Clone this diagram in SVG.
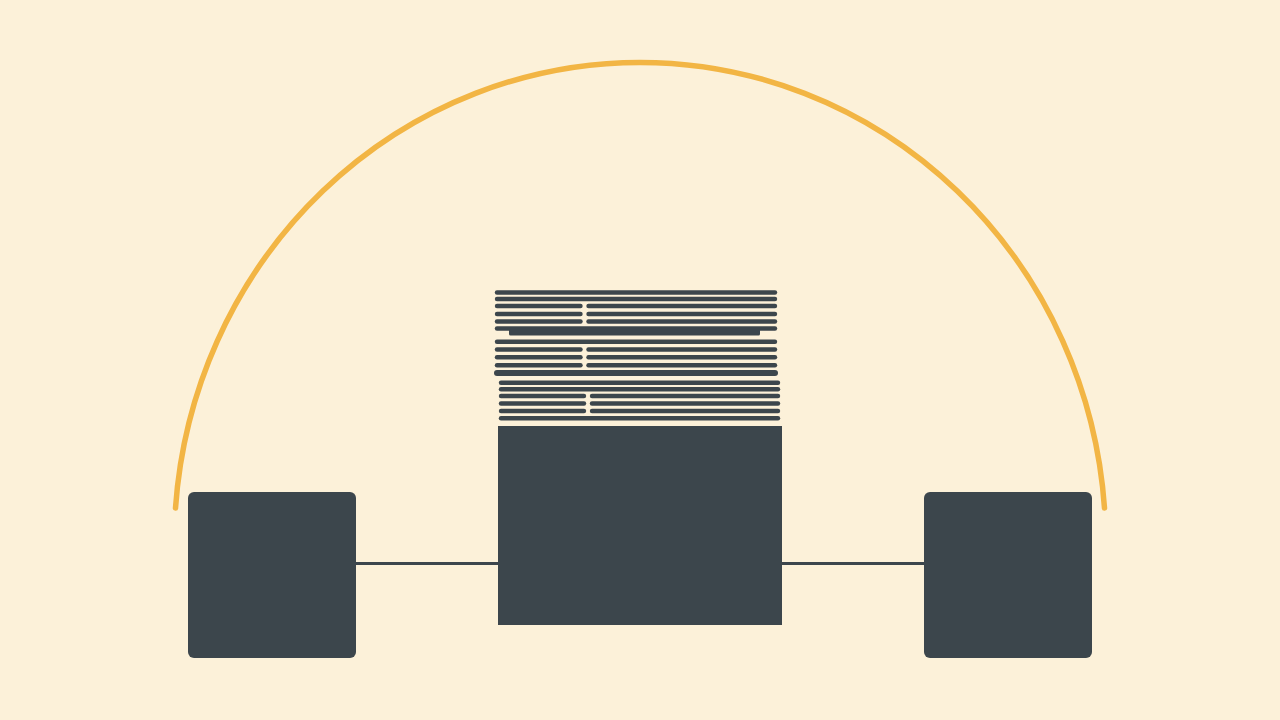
<svg xmlns="http://www.w3.org/2000/svg" width="1280" height="720" viewBox="0 0 1280 720">
  <style>
    .node { fill: #3C464C; }
    .ln { stroke: #3C464C; stroke-width: 4.4; stroke-linecap: round; fill: none; }
    .thick { stroke-width: 6; }
    .conn { stroke: #3C464C; stroke-width: 3; fill: none; }
    .arc { stroke: #F2B544; stroke-width: 5.5; stroke-linecap: round; fill: none; }
  </style>
  <rect x="0" y="0" width="1280" height="720" fill="#FCF1D9"/>
  <path class="arc" d="M175.5,508 A465.7,480 0 0 1 1104.5,508"/>
  <g id="connectors">
    <line class="conn" x1="355" y1="563.5" x2="499" y2="563.5"/>
    <line class="conn" x1="781" y1="563.5" x2="925" y2="563.5"/>
  </g>
  <g id="node-left">
    <rect class="node" x="188" y="492" width="168" height="166" rx="6"/>
  </g>
  <g id="node-right">
    <rect class="node" x="924" y="492" width="168" height="166" rx="6"/>
  </g>
  <g id="node-center">
    <rect class="node" x="498" y="426" width="284" height="199"/>
  </g>
  <g id="stack">
    <line class="ln" x1="497" y1="292.5" x2="775" y2="292.5"/>
    <line class="ln" x1="497" y1="299" x2="775" y2="299"/>
    <line class="ln" x1="497" y1="306" x2="580.5" y2="306"/>
    <line class="ln" x1="588.5" y1="306" x2="775" y2="306"/>
    <line class="ln" x1="497" y1="314" x2="580.5" y2="314"/>
    <line class="ln" x1="588.5" y1="314" x2="775" y2="314"/>
    <line class="ln" x1="497" y1="321.5" x2="580.5" y2="321.5"/>
    <line class="ln" x1="588.5" y1="321.5" x2="775" y2="321.5"/>
    <line class="ln" x1="497" y1="328.5" x2="775" y2="328.5"/>
    <rect class="node" x="509" y="329" width="251" height="6.5" rx="1.5"/>
    <line class="ln" x1="497" y1="341.7" x2="775" y2="341.7"/>
    <line class="ln" x1="497" y1="349.5" x2="580.5" y2="349.5"/>
    <line class="ln" x1="588.5" y1="349.5" x2="775" y2="349.5"/>
    <line class="ln" x1="497" y1="357.3" x2="580.5" y2="357.3"/>
    <line class="ln" x1="588.5" y1="357.3" x2="775" y2="357.3"/>
    <line class="ln" x1="497" y1="365.2" x2="580.5" y2="365.2"/>
    <line class="ln" x1="588.5" y1="365.2" x2="775" y2="365.2"/>
    <line class="ln thick" x1="497" y1="373" x2="775" y2="373"/>
    <line class="ln" x1="501" y1="382.8" x2="778" y2="382.8"/>
    <line class="ln" x1="501" y1="389.2" x2="778" y2="389.2"/>
    <line class="ln" x1="501" y1="396" x2="584" y2="396"/>
    <line class="ln" x1="592" y1="396" x2="778" y2="396"/>
    <line class="ln" x1="501" y1="403.5" x2="584" y2="403.5"/>
    <line class="ln" x1="592" y1="403.5" x2="778" y2="403.5"/>
    <line class="ln" x1="501" y1="411" x2="584" y2="411"/>
    <line class="ln" x1="592" y1="411" x2="778" y2="411"/>
    <line class="ln" x1="501" y1="418.2" x2="778" y2="418.2"/>
  </g>
</svg>
